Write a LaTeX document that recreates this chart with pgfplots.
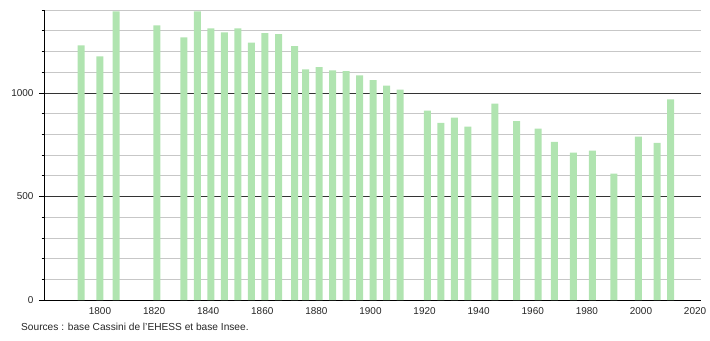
\documentclass[border=0pt]{standalone}
\usepackage{pgfplots}
\pgfplotsset{compat=1.18}
\usepackage{fontspec}
\setmainfont{Liberation Sans}
\definecolor{barg}{RGB}{176,228,176}
\begin{document}
\begin{tikzpicture}[x=1bp,y=1bp]
\path[use as bounding box] (0,0) rectangle (710,340);
\begin{axis}[
  at={(44bp,40bp)}, anchor=south west, scale only axis,
  width=657bp, height=290bp,
  xmin=1779.3, xmax=2022.2, ymin=0, ymax=1400,
  axis x line*=bottom, axis y line*=left,
  axis line style={black, line width=0.8pt},
  xtick={1800,1820,...,2020},
  ytick={0,500,1000},
  minor ytick={100,200,300,400,600,700,800,900,1100,1200,1300,1400},
  ymajorgrids, yminorgrids,
  major grid style={black!80, line width=0.6pt},
  minor grid style={black!22, line width=0.6pt},
  x tick style={draw=none},
  tick align=outside,
  major tick length=5bp, minor tick length=2.5bp,
  y tick style={black, line width=0.6pt},
  tick label style={font=\fontsize{10}{12}\selectfont, text=black!85},
  /pgf/number format/assume math mode=true,
  /pgf/number format/set thousands separator={},
  xticklabel style={yshift=1bp},
  yticklabel style={xshift=-2bp},
  ybar, bar width=7bp,
  clip=false,
]
\addplot[fill=barg, draw=none] coordinates {
(1793,1229) (1800,1176) (1806,1393) (1821,1326) (1831,1268) (1836,1393)
(1841,1311) (1846,1292) (1851,1311) (1856,1243) (1861,1288) (1866,1284)
(1872,1226) (1876,1113) (1881,1124) (1886,1109) (1891,1105) (1896,1084)
(1901,1061) (1906,1035) (1911,1016) (1921,914) (1926,855) (1931,880)
(1936,837) (1946,948) (1954,864) (1962,827) (1968,763) (1975,711)
(1982,721) (1990,610) (1999,789) (2006,758) (2011,969)
};
\end{axis}
\node[anchor=west, inner sep=0pt, font=\fontsize{10.2}{12}\selectfont, text=black!85] at (21,13) {Sources : base Cassini de l'EHESS et base Insee.};
\end{tikzpicture}
\end{document}
